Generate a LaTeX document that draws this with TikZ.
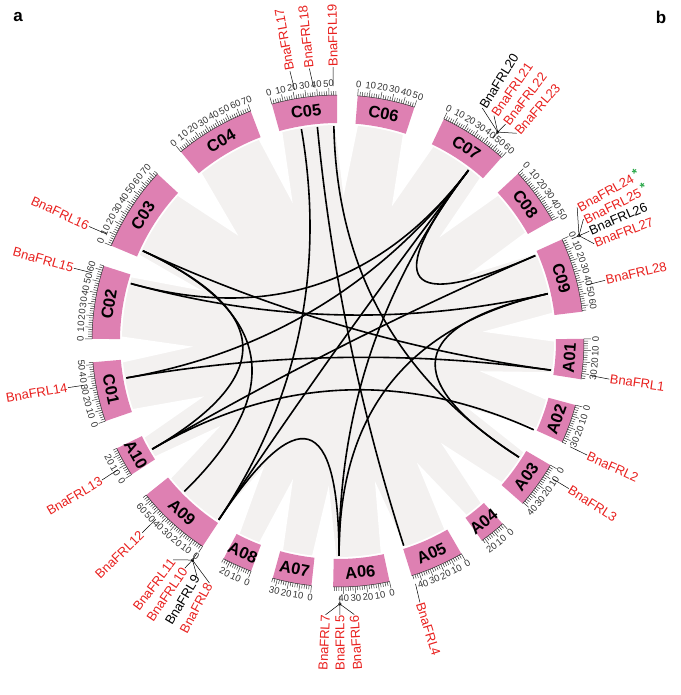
\documentclass[tikz,border=0pt]{standalone}
\usepackage{fontspec}
\setmainfont{Liberation Sans}
\usetikzlibrary{calc}
\definecolor{chrpink}{HTML}{DE80B2}
\definecolor{ribgrey}{HTML}{F3F1F0}
\definecolor{lblred}{HTML}{E8201E}
\definecolor{astgreen}{HTML}{2BA84A}
\definecolor{tkgrey}{HTML}{333333}
\def\Ri{218pt}
\def\Ro{246pt}
\newcommand{\lnk}[2]{\draw[link] (#1) .. controls ($(#1)!0.6667!(O)$) and ($(#2)!0.6667!(O)$) .. (#2);}
\newcommand{\gR}[5]{\node[glbl, text=#4, anchor=west, rotate={90-#3}] (#1) at ({90-#3}:274pt) {#5};
  \draw[gl] (#2) -- (#1.west);}
\newcommand{\gL}[5]{\node[glbl, text=#4, anchor=east, rotate={270-#3}] (#1) at ({90-#3}:274pt) {#5};
  \draw[gl] (#2) -- (#1.east);}
\newcommand{\gstar}{\,\raisebox{3pt}{\textcolor{astgreen}{\bfseries *}}}
\begin{document}
\begin{tikzpicture}[x=1pt,y=1pt,
  link/.style={black, line width=1.6pt},
  tk/.style={tkgrey, line width=0.5pt},
  gl/.style={black, line width=0.5pt},
  ticklbl/.style={text=tkgrey, font=\fontsize{9.5}{9.5}\selectfont, inner sep=0pt},
  chrlbl/.style={font=\fontsize{16.5}{16.5}\selectfont\bfseries, inner sep=0pt},
  glbl/.style={font=\fontsize{13}{13}\selectfont, inner sep=0.5pt},
  panel/.style={font=\fontsize{17}{17}\selectfont\bfseries}]
\useasboundingbox (-338pt,-354pt) rectangle (342pt,341pt);
\coordinate (O) at (0pt,0pt);
% ribbon background
\fill[ribgrey] (O) circle (216pt);
\foreach \ga/\gb in {339.2/344.4, 359.8/364.6, 18.1/25.5, 41.7/47.1, 60.6/65.6, 83.15/89.5,
  98.95/105.1, 114.3/120.3, 131.4/138.0, 144.2/149.9, 162.6/167.9, 181.1/186.2, 195.4/200.7,
  207.7/213.4, 231.2/237.1, 244.1/251.0, 265.0/270.5, 287.8/292.8, 312.8/320.3} {
  \pgfmathsetmacro\gm{(\ga+\gb)/2}
  \fill[white] ({90-\ga+0.8}:220pt) -- ({90-\gm}:145pt) -- ({90-\gb-0.8}:220pt) -- cycle;
}
% chromosomes
\foreach \nm/\s/\sz in {C05/344.4/57, C06/4.6/50, C07/25.5/60, C08/47.1/50, C09/65.6/65,
  A01/89.5/35, A02/105.1/34, A03/120.3/41, A04/138.0/23, A05/149.9/47, A06/167.9/49,
  A07/186.2/34, A08/200.7/26, A09/213.4/66, A10/237.1/26, C01/251.0/52, C02/270.5/64,
  C03/292.8/74, C04/320.3/70} {
  \pgfmathsetmacro\e{\s+\sz*0.27}
  \fill[chrpink] ({90-\s}:\Ri) arc[start angle={90-\s}, end angle={90-\e}, radius=\Ri]
     -- ({90-\e}:\Ro) arc[start angle={90-\e}, end angle={90-\s}, radius=\Ro] -- cycle;
  \draw[tk] ({90-\s}:\Ro) arc[start angle={90-\s}, end angle={90-\e}, radius=\Ro];
  \pgfmathsetmacro\cm{mod((\s+\e)/2,360)}
  \pgfmathtruncatemacro\cup{(\cm<90)||(\cm>270)}
  \ifnum\cup=1
    \node[chrlbl, rotate={-\cm}] (\nm) at ({90-\cm}:232pt) {\nm};
  \else
    \node[chrlbl, rotate={180-\cm}] (\nm) at ({90-\cm}:232pt) {\nm};
  \fi
  \foreach \i in {0,2,...,\sz} {
    \pgfmathsetmacro\a{\s+\i*0.27}
    \pgfmathtruncatemacro\maj{(mod(\i,10)==0)}
    \ifnum\maj=1
      \draw[tk] ({90-\a}:\Ro) -- ({90-\a}:253pt);
      \pgfmathsetmacro\am{mod(\a,360)}
      \pgfmathtruncatemacro\up{(\am<90)||(\am>270)}
      \ifnum\up=1
        \node[ticklbl, anchor=south, rotate={-\am}] (t\nm\i) at ({90-\a}:254pt) {\i};
      \else
        \node[ticklbl, anchor=north, rotate={180-\am}] (t\nm\i) at ({90-\a}:254pt) {\i};
      \fi
    \else
      \draw[tk] ({90-\a}:\Ro) -- ({90-\a}:250pt);
    \fi
  }
}
% link end points
\coordinate (C05a) at ({90-350.2}:215pt);
\coordinate (C05b) at ({90-354.5}:215pt);
\coordinate (C05c) at ({90-358.9}:215pt);
\coordinate (C07) at ({90-37.4}:215pt);
\coordinate (C03) at ({90-294.8}:215pt);
\coordinate (C02) at ({90-285.5}:215pt);
\coordinate (C09a) at ({90-66.6}:215pt);
\coordinate (C09b) at ({90-77.3}:215pt);
\coordinate (C01) at ({90-260.1}:215pt);
\coordinate (A10) at ({90-239.8}:215pt);
\coordinate (A09a) at ({90-225.6}:215pt);
\coordinate (A09b) at ({90-213.7}:215pt);
\coordinate (A06) at ({90-179.7}:215pt);
\coordinate (A05) at ({90-162.2}:215pt);
\coordinate (A03) at ({90-122.7}:215pt);
\coordinate (A02) at ({90-114.4}:215pt);
\coordinate (A01) at ({90-97.8}:215pt);
% links
\lnk{C07}{C09a}
\lnk{C01}{A01}
\lnk{A06}{A09b}
\lnk{C05a}{A09b}
\lnk{C05b}{A05}
\lnk{C05c}{A03}
\lnk{C03}{A09a}
\lnk{C09b}{A03}
\lnk{C02}{C09b}
\lnk{C03}{A10}
\lnk{C07}{C02}
\lnk{C07}{A09b}
\lnk{C07}{A06}
\lnk{A10}{C09a}
\lnk{A06}{C09b}
\lnk{C01}{C07}
\lnk{A10}{A02}
\lnk{C03}{A01}
% gene markers: single genes
\foreach \gn/\ga in {p1/97.8, p2/114.5, p3/122.7, p4/162.3, p12/225.6, p13/239.7, p14/260.1,
  p15/285.5, p16/294.8, p17/350.2, p18/354.5, p19/358.9, p28/77.3} {
  \coordinate (\gn) at ({90-\ga}:255pt);
}
% gene markers: groups
\foreach \gn/\ga in {q5/179.6, q8/213.6, q20/37.4, q24/66.4} {
  \coordinate (\gn b) at ({90-\ga}:255pt);
  \coordinate (\gn) at ({90-\ga}:263pt);
  \draw[gl] (\gn b) -- (\gn);
  \draw[gl] (\gn) circle (1.4pt);
}
% labels, right side
\gR{L1}{p1}{98.0}{lblred}{BnaFRL1}
\gR{L2}{p2}{114.6}{lblred}{BnaFRL2}
\gR{L3}{p3}{122.6}{lblred}{BnaFRL3}
\gR{L4}{p4}{162.6}{lblred}{BnaFRL4}
\gR{L17}{p17}{349.9}{lblred}{BnaFRL17}
\gR{L18}{p18}{354.0}{lblred}{BnaFRL18}
\gR{L19}{p19}{359.0}{lblred}{BnaFRL19}
\gR{L20}{q20}{31.8}{black}{BnaFRL20}
\gR{L21}{q20}{34.7}{lblred}{BnaFRL21}
\gR{L22}{q20}{37.7}{lblred}{BnaFRL22}
\gR{L23}{q20}{40.7}{lblred}{BnaFRL23}
\gR{L24}{q24}{60.8}{lblred}{BnaFRL24\gstar}
\gR{L25}{q24}{63.6}{lblred}{BnaFRL25\gstar}
\gR{L26}{q24}{66.4}{black}{BnaFRL26}
\gR{L27}{q24}{69.2}{lblred}{BnaFRL27}
\gR{L28}{p28}{77.2}{lblred}{BnaFRL28}
% labels, left side
\gL{L7}{q5}{182.6}{lblred}{BnaFRL7}
\gL{L5}{q5}{179.6}{lblred}{BnaFRL5}
\gL{L6}{q5}{176.6}{lblred}{BnaFRL6}
\gL{L8}{q8}{208.0}{lblred}{BnaFRL8}
\gL{L9}{q8}{211.0}{black}{BnaFRL9}
\gL{L10}{q8}{214.0}{lblred}{BnaFRL10}
\gL{L11}{q8}{217.0}{lblred}{BnaFRL11}
\gL{L12}{p12}{225.6}{lblred}{BnaFRL12}
\gL{L13}{p13}{239.5}{lblred}{BnaFRL13}
\gL{L14}{p14}{260.2}{lblred}{BnaFRL14}
\gL{L15}{p15}{285.4}{lblred}{BnaFRL15}
\gL{L16}{p16}{294.7}{lblred}{BnaFRL16}
% panel letters
\node[panel] (pa) at (-320pt,324pt) {a};
\node[panel] (pb) at (323pt,324pt) {b};
\end{tikzpicture}
\end{document}
